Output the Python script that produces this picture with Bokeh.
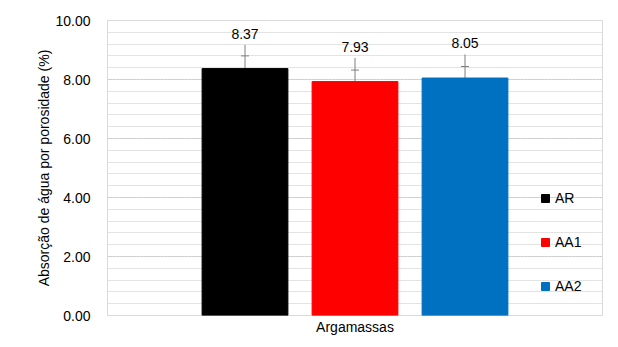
from bokeh.plotting import figure
from bokeh.models import (ColumnDataSource, FactorRange, Range1d, Whisker, TeeHead,
                          SingleIntervalTicker, NumeralTickFormatter, Legend, LegendItem,
                          FixedTicker)
from bokeh.core.properties import value
from bokeh.embed import file_html
from bokeh.resources import INLINE

categories = ["AR", "AA1", "AA2"]
values = [8.37, 7.93, 8.05]
errors = [0.43, 0.39, 0.39]
colors = ["#000000", "#FF0000", "#0070C0"]
labels = ["8.37", "7.93", "8.05"]
y_title = "Absorção de água por porosidade (%)"
x_title = "Argamassas"

FONT = "Liberation Sans"
FS = "14px"

src = ColumnDataSource(dict(
    cat=categories, val=values, err=errors, color=colors, label=labels,
    upper=[v + e for v, e in zip(values, errors)],
    lower=[v - e for v, e in zip(values, errors)],
    lead=[v + 0.80 for v in values],
))

p = figure(width=618, height=347, output_backend="svg", toolbar_location=None,
           x_range=FactorRange(factors=categories, range_padding=0.75,
                               range_padding_units="absolute"),
           y_range=Range1d(0, 10),
           min_border_left=107, min_border_right=16, min_border_top=20,
           min_border_bottom=32)
p.outline_line_color = "#d9d9d9"
p.background_fill_color = "white"
p.border_fill_color = "white"

p.vbar(x="cat", top="val", width=0.78, color="color", source=src)

p.segment(x0="cat", y0="upper", x1="cat", y1="lead", line_color="#7f7f7f",
          line_width=1, source=src)
w = Whisker(base="cat", upper="upper", lower="lower", source=src,
            line_color="#7f7f7f", line_width=1,
            upper_head=TeeHead(size=8, line_color="#7f7f7f", line_width=1),
            lower_head=TeeHead(size=8, line_color="#7f7f7f", line_width=1))
p.add_layout(w)

p.text(x="cat", y="val", text="label", source=src, y_offset=-35,
       text_align="center", text_baseline="alphabetic",
       text_font=value(FONT), text_font_size=FS, text_color="#000000")

p.yaxis.ticker = SingleIntervalTicker(interval=2, num_minor_ticks=5)
p.yaxis.formatter = NumeralTickFormatter(format="0.00")
p.yaxis.axis_line_color = None
p.yaxis.major_tick_line_color = None
p.yaxis.minor_tick_line_color = None
p.yaxis.major_label_standoff = 11
p.yaxis.major_label_text_font = FONT
p.yaxis.major_label_text_font_size = FS
p.yaxis.major_label_text_color = "#000000"
p.yaxis.axis_label = y_title
p.yaxis.axis_label_text_font = FONT
p.yaxis.axis_label_text_font_size = FS
p.yaxis.axis_label_text_font_style = "normal"
p.yaxis.axis_label_text_color = "#000000"
p.yaxis.axis_label_standoff = 0

p.xaxis.ticker = FixedTicker(ticks=[])
p.xaxis.axis_line_color = None
p.xaxis.major_tick_line_color = None
p.xaxis.minor_tick_line_color = None
p.xaxis.major_label_standoff = 0
p.xaxis.axis_label = x_title
p.xaxis.axis_label_text_font = FONT
p.xaxis.axis_label_text_font_size = FS
p.xaxis.axis_label_text_font_style = "normal"
p.xaxis.axis_label_text_color = "#000000"
p.xaxis.axis_label_standoff = 3

p.xgrid.grid_line_color = None
p.ygrid.ticker = SingleIntervalTicker(interval=2, num_minor_ticks=5)
p.ygrid.grid_line_color = "#c8c8c8"
p.ygrid.grid_line_dash = "2 1"
p.ygrid.minor_grid_line_color = "#e3e3e3"

r = p.scatter(x="cat", y="val", source=src, marker="square", color="color", size=0)
items = [LegendItem(label=c, renderers=[r], index=i) for i, c in enumerate(categories)]
leg = Legend(items=items, location=(428, 19), orientation="vertical",
             glyph_width=20, glyph_height=20, label_height=20, label_standoff=0,
             spacing=24, padding=0, margin=0, border_line_color=None,
             background_fill_alpha=0, label_text_font=FONT,
             label_text_font_size=FS, label_text_color="#000000")
p.add_layout(leg)

open("out.html", "w").write(file_html(p, INLINE))
